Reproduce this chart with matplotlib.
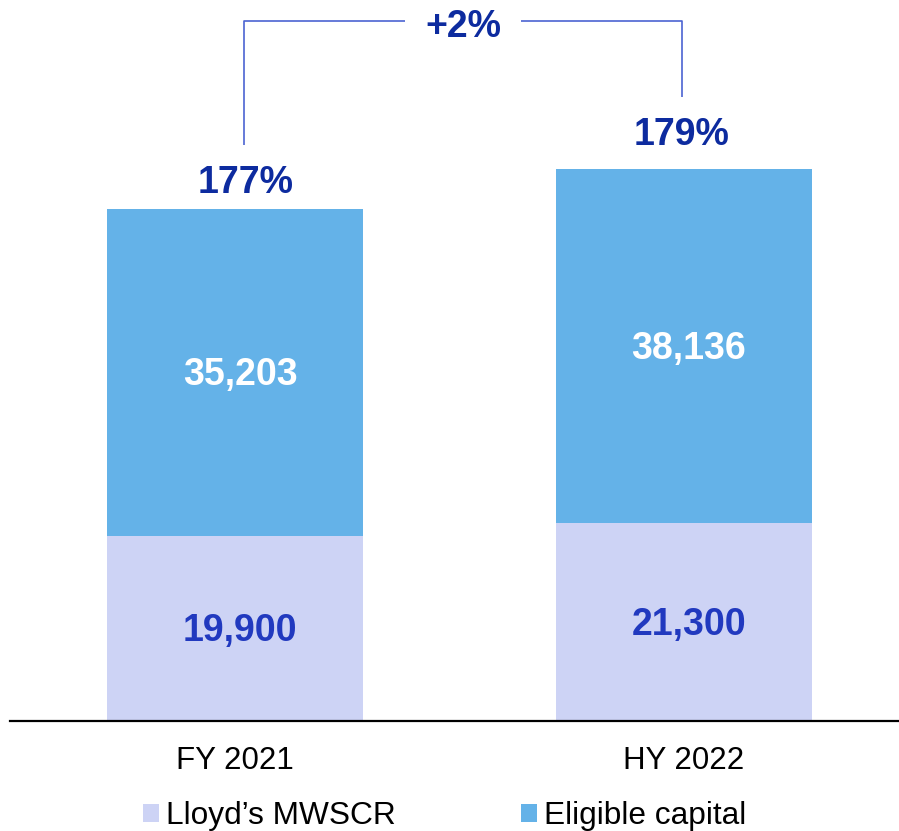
import matplotlib
matplotlib.use("Agg")
import matplotlib.pyplot as plt

# chart data
periods = ["FY 2021", "HY 2022"]
mwscr = [19900, 21300]
eligible = [35203, 38136]
mwscr_labels = ["19,900", "21,300"]
eligible_labels = ["35,203", "38,136"]
ratio_labels = ["177%", "179%"]
change_label = "+2%"
series_names = ["Lloyd\u2019s MWSCR", "Eligible capital"]

light_col = "#CDD3F5"
blue_col = "#64B2E8"
navy = "#0D2B9F"
mid_blue = "#2139BF"
line_col = "#4C63D2"


def draw_plot():
    plt.rcParams["font.family"] = ["Liberation Sans", "DejaVu Sans"]

    fig = plt.figure(figsize=(8.99, 8.31), dpi=100)
    ax = fig.add_axes([10 / 899, 110 / 831, 889 / 899, 721 / 831])

    x = list(range(len(periods)))
    b1 = ax.bar(x, mwscr, width=0.57, color=light_col, label=series_names[0])
    b2 = ax.bar(x, eligible, width=0.57, bottom=mwscr, color=blue_col,
                label=series_names[1])

    ax.set_xlim(-0.501, 1.479)
    ax.set_ylim(0, 77610)

    # value labels inside the segments (sit a little right of centre)
    for i in x:
        ax.annotate(mwscr_labels[i], (i, mwscr[i] / 2), xytext=(3.6, -2),
                    textcoords="offset points", ha="center", va="center",
                    fontsize=27, fontweight="bold", color=mid_blue)
        ax.annotate(eligible_labels[i], (i, mwscr[i] + eligible[i] / 2),
                    xytext=(3.6, -2), textcoords="offset points",
                    ha="center", va="center", fontsize=27,
                    fontweight="bold", color="white")

    # ratio labels above the bars
    totals = [a + b for a, b in zip(mwscr, eligible)]
    offsets = [(7.5, 11.5), (-1.5, 17.3)]
    for i in x:
        ax.annotate(ratio_labels[i], (i, totals[i]),
                    xytext=offsets[i], textcoords="offset points",
                    ha="center", va="baseline", fontsize=27,
                    fontweight="bold", color=navy)

    # bracket showing the change
    top_y = 75350
    ax.plot([0.02, 0.02, 0.378], [totals[0] + 6900, top_y, top_y],
            color=line_col, lw=1.2, solid_capstyle="butt")
    ax.plot([0.637, 0.995, 0.995], [top_y, top_y, totals[1] + 7700],
            color=line_col, lw=1.2, solid_capstyle="butt")
    ax.annotate(change_label, (0.508, top_y), xytext=(0, -11.5),
                textcoords="offset points", ha="center", va="baseline",
                fontsize=27, fontweight="bold", color=navy)

    # axes styling
    for side in ["top", "left", "right"]:
        ax.spines[side].set_visible(False)
    ax.spines["bottom"].set_linewidth(1.6)
    ax.spines["bottom"].set_color("black")
    ax.set_yticks([])
    ax.set_xticks(x)
    ax.set_xticklabels(periods, fontsize=22.5)
    ax.tick_params(axis="x", length=0, pad=18)

    fig.legend(handles=[b1, b2], loc="lower left",
               bbox_to_anchor=(140 / 899, -0.004), ncol=2, frameon=False,
               fontsize=22.8, handlelength=0.5, handleheight=0.5,
               handletextpad=0.22, columnspacing=3.95, borderpad=0.1,
               borderaxespad=0.0)

    fig.savefig("out.png", dpi=100)


if __name__ == "__main__":
    draw_plot()
